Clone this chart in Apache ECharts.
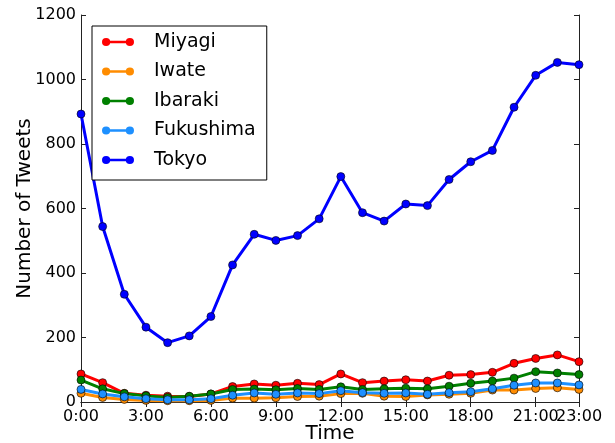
<!DOCTYPE html>
<html>
<head>
<meta charset="utf-8">
<script src="https://cdn.jsdelivr.net/npm/echarts@6/dist/echarts.min.js"></script>
<style>
html,body{margin:0;padding:0;background:#fff;}
#chart{width:615px;height:443px;}
</style>
</head>
<body>
<div id="chart"></div>
<script>
var hours = ['0:00','1:00','2:00','3:00','4:00','5:00','6:00','7:00','8:00','9:00','10:00','11:00',
             '12:00','13:00','14:00','15:00','16:00','17:00','18:00','19:00','20:00','21:00','22:00','23:00'];
var seriesNames = ['Miyagi','Iwate','Ibaraki','Fukushima','Tokyo'];
var miyagi    = [87,60,27,21,18,17,25,48,56,52,58,54,87,60,65,69,65,83,85,92,120,135,146,125];
var iwate     = [27,14,8,5,4,4,5,12,12,13,17,18,26,27,18,17,22,24,27,37,37,42,44,39];
var ibaraki   = [68,41,26,19,14,18,25,39,40,38,42,39,47,39,41,43,41,49,58,65,74,94,90,85];
var fukushima = [39,25,16,10,7,7,10,21,28,24,28,26,35,29,27,28,24,29,32,41,52,59,59,53];
var tokyo     = [893,544,334,232,184,205,265,425,520,501,516,568,699,587,561,614,609,690,745,780,914,1013,1053,1046];
var yTicks = {min:0, max:1200, interval:200};
var colors = ['#ff0000','#ff8c00','#008000','#1e90ff','#0000ff'];

var values = [miyagi, iwate, ibaraki, fukushima, tokyo];
var lastIdx = hours.length - 1;
var shownTick = function(i){ return i % 3 === 0 || i === lastIdx; };
var font = 'DejaVu Sans';
var legendIcon = 'path://M0.5,5A4.5,4.5 0 1,1 9.5,5A4.5,4.5 0 1,1 0.5,5Z M5,3.7L31,3.7L31,6.3L5,6.3Z M26.5,5A4.5,4.5 0 1,1 35.5,5A4.5,4.5 0 1,1 26.5,5Z';

var frameLine = {show:true, lineStyle:{color:'#222', width:1}};
var labelStyle = {fontFamily:font, fontSize:16, color:'#000', margin:7};
var chart = echarts.init(document.getElementById('chart'), null, {renderer:'canvas'});
chart.setOption({
  animation:false,
  backgroundColor:'#fff',
  grid:{left:81, right:36, top:15, bottom:41, containLabel:false, outerBoundsMode:'none'},
  legend:{
    orient:'vertical', left:92, top:26,
    backgroundColor:'#fff', borderColor:'#000', borderWidth:1, borderRadius:0,
    padding:[6,11,10,10],
    itemWidth:32, itemHeight:9, itemGap:9.5,
    icon:legendIcon,
    itemStyle:{borderWidth:0},
    textStyle:{fontFamily:font, fontSize:19, color:'#000', lineHeight:20, padding:[0,0,0,15]},
    data:seriesNames
  },
  xAxis:[{
    type:'category', data:hours, boundaryGap:false,
    name:'Time', nameLocation:'middle', nameGap:22, nameMoveOverlap:false,
    nameTextStyle:{fontFamily:font, fontSize:20, color:'#000'},
    axisLine:frameLine,
    axisTick:{show:true, inside:true, length:5, interval:function(i){return shownTick(i);}, lineStyle:{color:'#222'}},
    axisLabel:Object.assign({interval:function(i){return i % 3 === 0;}}, labelStyle),
    splitLine:{show:false}
  },{
    type:'category', data:hours, boundaryGap:false, position:'top',
    axisLine:frameLine,
    axisTick:{show:true, inside:true, length:5, interval:function(i){return shownTick(i);}, lineStyle:{color:'#222'}},
    axisLabel:{show:false}, splitLine:{show:false}
  },{
    type:'category', data:hours, boundaryGap:false, position:'bottom',
    axisLine:{show:false}, axisTick:{show:false},
    axisLabel:Object.assign({interval:function(i){return i === lastIdx;}, showMaxLabel:true, showMinLabel:false}, labelStyle),
    splitLine:{show:false}
  }],
  yAxis:[{
    type:'value', min:yTicks.min, max:yTicks.max, interval:yTicks.interval,
    name:'Number of Tweets', nameLocation:'middle', nameGap:46, nameMoveOverlap:false,
    nameTextStyle:{fontFamily:font, fontSize:20, color:'#000'},
    axisLine:frameLine,
    axisTick:{show:true, inside:true, length:5, lineStyle:{color:'#222'}},
    axisLabel:{fontFamily:font, fontSize:16, color:'#000', margin:5, formatter:function(v){return String(v);}},
    splitLine:{show:false}
  },{
    type:'value', min:yTicks.min, max:yTicks.max, interval:yTicks.interval, position:'right',
    axisLine:frameLine,
    axisTick:{show:true, inside:true, length:5, lineStyle:{color:'#222'}},
    axisLabel:{show:false}, splitLine:{show:false}
  }],
  series:seriesNames.map(function(n, k){
    return {
      name:n, type:'line', data:values[k], xAxisIndex:0, yAxisIndex:0,
      symbol:'circle', symbolSize:8, showAllSymbol:true,
      lineStyle:{color:colors[k], width:3},
      itemStyle:{color:colors[k], borderColor:'rgba(0,0,0,0.75)', borderWidth:0.8},
      emphasis:{disabled:true}
    };
  })
});
</script>
</body>
</html>
